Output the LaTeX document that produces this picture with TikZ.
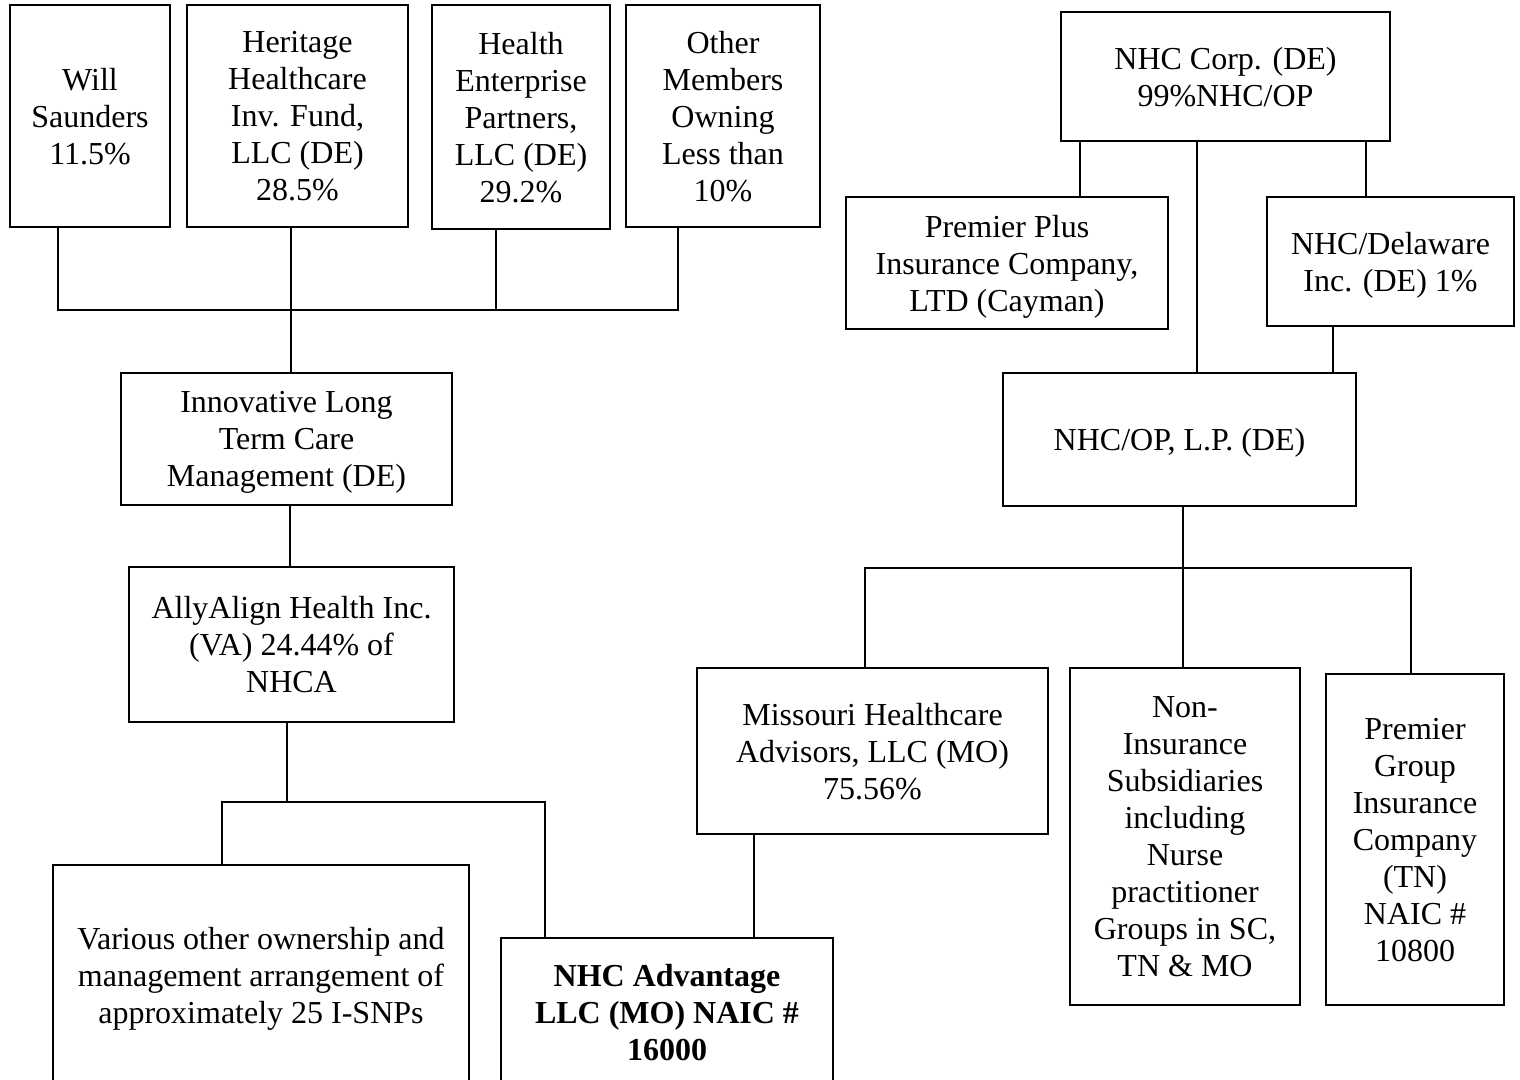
\documentclass[tikz,border=0pt]{standalone}
\usepackage{fontspec}
\setmainfont{Liberation Serif}
\tikzset{
	orgbox/.style={draw,line width=1.2pt,align=center,inner sep=0pt,text depth=-3pt,font=\fontsize{16}{18.5}\selectfont},
	wire/.style={line width=0.6pt}
}

\begin{document}
\begin{tikzpicture}[x=0.5pt,y=-0.5pt]
	\useasboundingbox (0,0) rectangle (1520,1080);
	\clip (0,0) rectangle (1520,1080);

	% owners of the left branch
	\node[orgbox,minimum width=80pt,minimum height=111pt] (will) at (90,116) {Will\\Saunders\\11.5\%};
	\node[orgbox,minimum width=110.5pt,minimum height=111pt] (heritage) at (297.5,116) {Heritage\\Healthcare\\Inv. Fund,\\LLC (DE)\\28.5\%};
	\node[orgbox,minimum width=89pt,minimum height=112pt] (health) at (521,117) {Health\\Enterprise\\Partners,\\LLC (DE)\\29.2\%};
	\node[orgbox,minimum width=97pt,minimum height=111pt] (other) at (723,116) {Other\\Members\\Owning\\Less than\\10\%};

	\node[orgbox,minimum width=165.5pt,minimum height=66pt] (innov) at (286.5,439) {Innovative Long\\Term Care\\Management (DE)};
	\node[orgbox,minimum width=162.5pt,minimum height=77.5pt] (ally) at (291.5,644.5) {AllyAlign Health Inc.\\(VA) 24.44\% of\\NHCA};
	\node[orgbox,minimum width=208pt,minimum height=110pt] (various) at (261,975) {Various other ownership and\\management arrangement of\\approximately 25 I-SNPs};
	\node[orgbox,minimum width=166pt,minimum height=74pt,font=\fontsize{16}{18.5}\selectfont\bfseries] (advantage) at (667,1012) {NHC Advantage\\LLC (MO) NAIC \#\\16000};
	\node[orgbox,minimum width=175.5pt,minimum height=83pt] (missouri) at (872.5,751) {Missouri Healthcare\\Advisors, LLC (MO)\\75.56\%};

	% right branch
	\node[orgbox,minimum width=164.5pt,minimum height=64.5pt] (corp) at (1225.5,76.5) {NHC Corp. (DE)\\99\%NHC/OP};
	\node[orgbox,minimum width=161pt,minimum height=66pt] (plus) at (1007,263) {Premier Plus\\Insurance Company,\\LTD (Cayman)};
	\node[orgbox,minimum width=123.5pt,minimum height=64.5pt] (delaware) at (1390.5,261.5) {NHC/Delaware\\Inc. (DE) 1\%};
	\node[orgbox,minimum width=176.5pt,minimum height=66.5pt] (op) at (1179.5,439.5) {NHC/OP, L.P. (DE)};
	\node[orgbox,minimum width=115pt,minimum height=168.5pt] (nonins) at (1185,836.5) {Non-\\Insurance\\Subsidiaries\\including\\Nurse\\practitioner\\Groups in SC,\\TN \& MO};
	\node[orgbox,minimum width=89pt,minimum height=165.5pt] (group) at (1415,839.5) {Premier\\Group\\Insurance\\Company\\(TN)\\NAIC \#\\10800};

	% connectors
	\coordinate (busA) at (58,310);
	\coordinate (busB) at (678,310);
	\coordinate (busH) at (291,310);
	\coordinate (busE) at (496,310);
	\draw[wire] (will.south -| busA) -- (busA) -- (busB) -- (other.south -| busB);
	\draw[wire] (heritage.south -| busH) -- (innov.north -| busH);
	\draw[wire] (health.south -| busE) -- (busE);
	\draw[wire] (innov.south -| 290,0) -- (ally.north -| 290,0);

	\coordinate (allyJ) at (287,802);
	\coordinate (allyL) at (222,802);
	\coordinate (allyR) at (545,802);
	\draw[wire] (ally.south -| allyJ) -- (allyJ);
	\draw[wire] (various.north -| allyL) -- (allyL) -- (allyR) -- (advantage.north -| allyR);
	\draw[wire] (missouri.south -| 754,0) -- (advantage.north -| 754,0);

	\draw[wire] (corp.south -| 1080,0) -- (plus.north -| 1080,0);
	\draw[wire] (corp.south -| 1197,0) -- (op.north -| 1197,0);
	\draw[wire] (corp.south -| 1366,0) -- (delaware.north -| 1366,0);
	\draw[wire] (delaware.south -| 1333,0) -- (op.north -| 1333,0);

	\coordinate (opJ) at (1183,568);
	\coordinate (opL) at (865,568);
	\coordinate (opR) at (1411,568);
	\draw[wire] (op.south -| opJ) -- (opJ);
	\draw[wire] (missouri.north -| opL) -- (opL) -- (opR) -- (group.north -| opR);
	\draw[wire] (opJ) -- (nonins.north -| opJ);
\end{tikzpicture}
\end{document}
